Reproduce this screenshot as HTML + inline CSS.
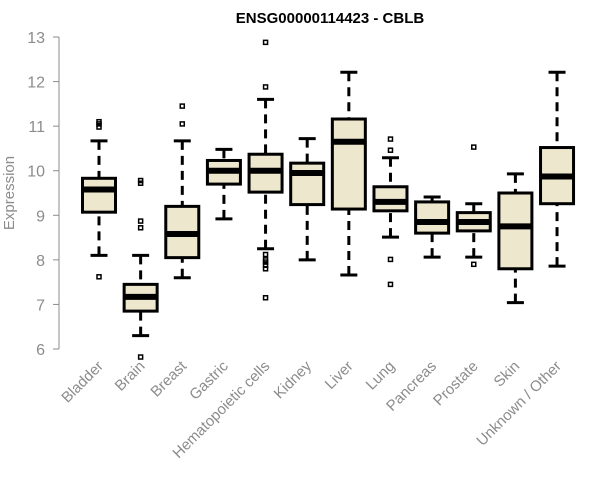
<!DOCTYPE html>
<html><head><meta charset="utf-8"><style>
body{margin:0;background:#fff;}
svg{display:block;font-family:"Liberation Sans",Arial,sans-serif;}
</style></head><body>
<svg id="chart" width="600" height="500">
<text x="330" y="23" text-anchor="middle" font-size="15" font-weight="bold">ENSG00000114423 - CBLB</text>
<text transform="translate(14,193) rotate(-90)" text-anchor="middle" font-size="15" fill="#8c8c8c">Expression</text>
<g id="axis"></g><g id="boxes"></g>
</svg>
<script>
const categories=["Bladder","Brain","Breast","Gastric","Hematopoietic cells","Kidney","Liver","Lung","Pancreas","Prostate","Skin","Unknown / Other"];
const whiskerLow=[8.1,6.3,7.6,8.92,8.25,8.0,7.66,8.51,8.06,8.06,7.04,7.86];
const q1=[9.07,6.85,8.05,9.7,9.52,9.24,9.14,9.10,8.60,8.65,7.80,9.26];
const medians=[9.58,7.17,8.58,10.0,10.0,9.95,10.65,9.30,8.85,8.85,8.75,9.87];
const q3=[9.83,7.45,9.2,10.23,10.37,10.17,11.16,9.64,9.30,9.06,9.50,10.52];
const whiskerHigh=[10.67,8.1,10.67,10.48,11.6,10.72,12.21,10.29,9.41,9.26,9.93,12.21];
const outliers=[[11.1,11.05,10.98,7.62],[9.78,9.72,8.87,8.72,5.82],[11.45,11.05],[],[12.88,11.88,8.12,8.0,7.95,7.88,7.8,7.15],[],[],[10.71,10.46,8.01,7.45],[],[10.53,7.90],[],[]];
const yTicks=[6,7,8,9,10,11,12,13];
const NS="http://www.w3.org/2000/svg";
const y=v=>349-(v-6)*44.57;
const x=i=>99+i*41.64;
function mk(tag,attrs,parent){const e=document.createElementNS(NS,tag);for(const k in attrs)e.setAttribute(k,attrs[k]);parent.appendChild(e);return e;}
const ax=document.getElementById('axis'),bx=document.getElementById('boxes');
let l=mk('line',{x1:59,x2:59,y1:y(13),y2:y(6),stroke:'#8c8c8c'},ax);


yTicks.forEach(t=>{
 let tk=mk('line',{x1:53,x2:59,y1:y(t),y2:y(t),stroke:'#8c8c8c'},ax);
 
 
 let tx=mk('text',{x:45,y:y(t)+6,'text-anchor':'end','font-size':16,fill:'#8c8c8c'},ax);tx.textContent=t;
 
 
});
categories.forEach((c,i)=>{
 const cx=x(i),w=16.5;
 const g=mk('g',{},bx);
 
 
 mk('line',{x1:cx,x2:cx,y1:y(whiskerHigh[i]),y2:y(q3[i]),stroke:'#000','stroke-width':3,'stroke-dasharray':'9,6'},g);
 mk('line',{x1:cx,x2:cx,y1:y(whiskerLow[i]),y2:y(q1[i]),stroke:'#000','stroke-width':3,'stroke-dasharray':'9,6'},g);
 mk('line',{x1:cx-8.5,x2:cx+8.5,y1:y(whiskerHigh[i]),y2:y(whiskerHigh[i]),stroke:'#000','stroke-width':3},g);
 mk('line',{x1:cx-8.5,x2:cx+8.5,y1:y(whiskerLow[i]),y2:y(whiskerLow[i]),stroke:'#000','stroke-width':3},g);
 mk('rect',{x:cx-w,y:y(q3[i]),width:2*w,height:y(q1[i])-y(q3[i]),fill:'#ede7cd',stroke:'#000','stroke-width':3},g);
 mk('line',{x1:cx-w,x2:cx+w,y1:y(medians[i]),y2:y(medians[i]),stroke:'#000','stroke-width':6},g);
 outliers[i].forEach(o=>{
  let p=mk('rect',{x:cx-2,y:y(o)-2,width:4,height:4,fill:'none',stroke:'#000','stroke-width':1.5},g);
  
  
 });
 let t=mk('text',{transform:`translate(${cx+5},${367}) rotate(-45)`,'text-anchor':'end','font-size':15,fill:'#8c8c8c'},bx);
 t.textContent=c;
 
 
});
</script>
</body></html>
